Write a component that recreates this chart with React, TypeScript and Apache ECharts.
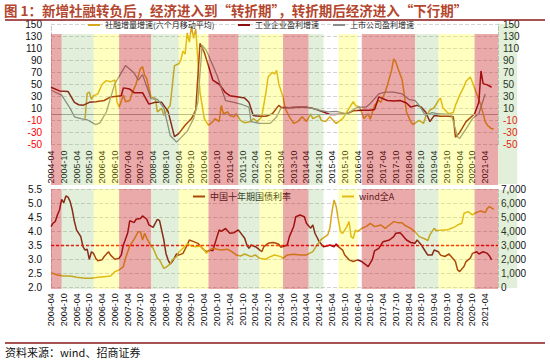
import React, { useEffect, useRef } from "react";
import * as echarts from "echarts";

// ---------------- text ----------------
const chartTitle = "图 1：新增社融转负后，经济进入到“转折期”，转折期后经济进入“下行期”";
const sourceNote = "资料来源：wind、招商证券";
const topNames = ["社融增量增速(六个月移动平均)", "工业企业盈利增速", "上市公司盈利增速"];
const bottomNames = ["中国十年期国债利率", "wind全A"];

// ---------------- axes ----------------
const axisStart = "2004-04";
const axisEnd = "2021-10";
const lastTickLabel = "2021-04";
const phaseTail = "2022-07";
const topAxisRange = [-50, 150, 20];
const bondAxisRange = [2, 5.5, 0.5];
const indexAxisRange = [0, 7000, 1000];
const bondReference = 3.5;

// ---------------- phases ----------------
const phases: [string, string, string][] = [
  ["2004-04", "2004-09", "turn"],
  ["2004-09", "2005-12", "down"],
  ["2005-12", "2006-12", "up"],
  ["2006-12", "2008-03", "turn"],
  ["2008-03", "2009-04", "down"],
  ["2009-04", "2010-06", "up"],
  ["2010-06", "2011-08", "turn"],
  ["2011-08", "2012-06", "down"],
  ["2012-06", "2013-05", "up"],
  ["2013-05", "2014-05", "turn"],
  ["2014-05", "2014-12", "down"],
  ["2015-07", "2016-04", "up"],
  ["2016-06", "2018-07", "turn"],
  ["2018-07", "2019-06", "down"],
  ["2019-06", "2020-11", "up"],
  ["2020-11", "2021-10", "turn"],
];
const tailPhase: [string, string, string] = ["2021-10", phaseTail, "down"];

// ---------------- series ----------------
const tsfGrowth: [string, number][] = [
  ["2005-08", -7], ["2005-09", 35], ["2005-10", 37], ["2005-11", 25], ["2005-12", 31],
  ["2006-02", 34], ["2006-04", 50], ["2006-06", 56], ["2006-08", 54], ["2006-10", 57],
  ["2006-11", 21], ["2006-12", 12], ["2007-02", 32], ["2007-03", 21], ["2007-05", 23],
  ["2007-06", 34], ["2007-08", 51], ["2007-10", 76], ["2007-11", 79], ["2007-12", 65],
  ["2008-01", 59], ["2008-02", 43], ["2008-03", 29], ["2008-05", 27], ["2008-06", 4],
  ["2008-08", 10], ["2008-09", -2], ["2008-11", 10], ["2008-12", 15], ["2009-01", 48],
  ["2009-02", 81], ["2009-04", 84], ["2009-05", 90], ["2009-06", 105], ["2009-07", 100],
  ["2009-08", 135], ["2009-09", 120], ["2009-10", 146], ["2009-11", 126], ["2009-12", 142],
  ["2010-01", 90], ["2010-02", 37], ["2010-03", 15], ["2010-04", -7], ["2010-06", -18],
  ["2010-08", -12], ["2010-09", -7], ["2010-11", -12], ["2010-12", 15], ["2011-01", 1],
  ["2011-03", 4], ["2011-04", -2], ["2011-06", -4], ["2011-07", 1], ["2011-09", -10],
  ["2011-11", -14], ["2012-02", -12], ["2012-03", -7], ["2012-05", -12], ["2012-07", -4],
  ["2012-09", 37], ["2012-10", 62], ["2012-12", 70], ["2013-01", 67], ["2013-02", 73],
  ["2013-03", 51], ["2013-05", 29], ["2013-06", 10], ["2013-08", -4], ["2013-10", -15],
  ["2013-12", -12], ["2014-02", -4], ["2014-04", -12], ["2014-06", 1], ["2014-07", -7],
  ["2014-10", -2], ["2014-11", -10], ["2015-01", -12], ["2015-03", -4], ["2015-05", -12],
  ["2015-06", -15], ["2015-09", -7], ["2015-10", -2], ["2015-12", 10], ["2016-02", 21],
  ["2016-03", 15], ["2016-05", 12], ["2016-07", -7], ["2016-09", 1], ["2016-10", -8],
  ["2016-12", 15], ["2017-02", 23], ["2017-03", 20], ["2017-05", 37], ["2017-06", 48],
  ["2017-08", 73], ["2017-09", 92], ["2017-10", 87], ["2017-11", 76], ["2018-01", 57],
  ["2018-02", 32], ["2018-03", 4], ["2018-05", -12], ["2018-06", -17], ["2018-08", -12],
  ["2018-09", -10], ["2018-11", -15], ["2018-12", -4], ["2019-02", 7], ["2019-04", 11],
  ["2019-06", 23], ["2019-07", 27], ["2019-08", 12], ["2019-10", 4], ["2019-11", 1],
  ["2020-01", 3], ["2020-02", 15], ["2020-04", 32], ["2020-06", 46], ["2020-07", 55],
  ["2020-09", 62], ["2020-10", 53], ["2020-12", 34], ["2021-02", 15], ["2021-04", -12],
  ["2021-05", -18], ["2021-07", -24], ["2021-08", -24],
];

const industrialProfit: [string, number][] = [
  ["2004-04", 45], ["2004-08", 39], ["2004-12", 38], ["2005-03", 20], ["2005-05", 16],
  ["2005-07", 15], ["2005-10", 20], ["2006-01", 21], ["2006-05", 23], ["2006-08", 29],
  ["2006-11", 30], ["2007-01", 31], ["2007-02", 44], ["2007-05", 42], ["2007-07", 36],
  ["2007-11", 36], ["2008-02", 17], ["2008-05", 20], ["2008-08", 20], ["2008-11", 5],
  ["2009-02", -37], ["2009-04", -32], ["2009-07", -18], ["2009-10", -7], ["2009-12", 7],
  ["2010-02", 118], ["2010-04", 103], ["2010-08", 57], ["2010-11", 50], ["2011-02", 36],
  ["2011-04", 31], ["2011-08", 29], ["2011-11", 27], ["2012-01", 20], ["2012-03", -2],
  ["2012-06", -3], ["2012-09", -3], ["2012-12", 1], ["2013-03", 15], ["2013-04", 12],
  ["2013-08", 11], ["2013-12", 12], ["2014-04", 12], ["2014-07", 10], ["2014-12", 4],
  ["2015-03", 0], ["2015-06", 0], ["2015-11", 1], ["2016-02", 6], ["2016-06", 7],
  ["2016-10", 7], ["2016-12", 8], ["2017-02", 29], ["2017-06", 23], ["2017-09", 22],
  ["2017-12", 23], ["2018-03", 19], ["2018-05", 12], ["2018-08", 15], ["2018-10", 12],
  ["2018-12", 4], ["2019-02", -12], ["2019-04", -2], ["2019-07", -3], ["2019-11", -3],
  ["2020-01", -4], ["2020-02", -38], ["2020-04", -30], ["2020-07", -12], ["2020-11", 1],
  ["2021-01", 20], ["2021-02", 72], ["2021-03", 51], ["2021-05", 49], ["2021-07", 45],
];

const listedProfit: [string, number][] = [
  ["2004-04", 40], ["2004-09", 32], ["2005-01", 10], ["2005-03", -4], ["2005-06", -7],
  ["2005-09", -9], ["2006-01", -17], ["2006-03", -14], ["2006-06", 4], ["2006-10", 51],
  ["2007-03", 81], ["2007-07", 69], ["2007-09", 57], ["2007-11", 66], ["2008-03", 26],
  ["2008-06", 25], ["2008-09", 11], ["2008-12", -35], ["2009-03", -46], ["2009-08", -28],
  ["2009-11", -7], ["2010-01", 20], ["2010-03", 115], ["2010-05", 106], ["2010-10", 65],
  ["2011-02", 23], ["2011-06", 20], ["2011-10", 16], ["2012-01", 12], ["2012-02", -12],
  ["2012-06", -15], ["2012-11", -15], ["2013-02", -4], ["2013-04", 10], ["2013-10", 12],
  ["2014-04", 12], ["2014-10", 7], ["2015-02", 4], ["2015-06", 5], ["2015-11", 1],
  ["2016-04", 12], ["2016-08", 12], ["2016-10", 18], ["2017-02", 34], ["2017-05", 37],
  ["2017-09", 37], ["2018-01", 34], ["2018-04", 25], ["2018-07", 23], ["2018-09", 15],
  ["2018-12", -2], ["2019-03", 3], ["2019-06", 1], ["2019-12", 0], ["2020-03", -37],
  ["2020-04", -40], ["2020-07", -24], ["2020-10", -7], ["2021-01", 1], ["2021-04", 34],
];

const bondYield: [string, number][] = [
  ["2004-04", 4.17], ["2004-05", 4.29], ["2004-06", 4.35], ["2004-07", 4.58], ["2004-08", 4.76],
  ["2004-09", 5.14], ["2004-10", 5.02], ["2004-11", 5.26], ["2004-12", 5.22], ["2005-01", 5.06],
  ["2005-02", 4.76], ["2005-03", 4.35], ["2005-04", 4.05], ["2005-06", 3.81], ["2005-07", 3.45],
  ["2005-08", 3.33], ["2005-09", 3.36], ["2005-10", 3.0], ["2005-11", 3.27], ["2005-12", 3.21],
  ["2006-01", 3.04], ["2006-02", 2.95], ["2006-04", 2.98], ["2006-05", 3.1], ["2006-07", 3.27],
  ["2006-08", 3.15], ["2006-10", 3.0], ["2006-12", 3.04], ["2007-01", 3.15], ["2007-02", 3.51],
  ["2007-04", 3.93], ["2007-05", 4.38], ["2007-07", 4.31], ["2007-08", 4.43], ["2007-10", 4.46],
  ["2007-11", 4.55], ["2008-01", 4.43], ["2008-02", 4.23], ["2008-04", 4.14], ["2008-05", 4.29],
  ["2008-06", 4.43], ["2008-07", 4.38], ["2008-09", 3.69], ["2008-10", 3.21], ["2008-11", 2.98],
  ["2008-12", 2.83], ["2009-01", 2.92], ["2009-03", 3.19], ["2009-04", 3.15], ["2009-06", 3.21],
  ["2009-08", 3.51], ["2009-09", 3.69], ["2009-11", 3.63], ["2010-01", 3.57], ["2010-03", 3.4],
  ["2010-05", 3.27], ["2010-07", 3.33], ["2010-08", 3.3], ["2010-10", 3.81], ["2010-11", 4.05],
  ["2010-12", 4.0], ["2011-02", 4.1], ["2011-04", 3.93], ["2011-06", 3.95], ["2011-08", 4.05],
  ["2011-11", 3.75], ["2011-12", 3.51], ["2012-01", 3.39], ["2012-02", 3.51], ["2012-04", 3.45],
  ["2012-05", 3.4], ["2012-07", 3.27], ["2012-08", 3.45], ["2012-10", 3.57], ["2012-12", 3.6],
  ["2013-01", 3.59], ["2013-03", 3.54], ["2013-04", 3.43], ["2013-07", 3.51], ["2013-08", 3.81],
  ["2013-10", 4.17], ["2013-11", 4.52], ["2014-01", 4.58], ["2014-03", 4.52], ["2014-04", 4.29],
  ["2014-06", 4.11], ["2014-07", 4.23], ["2014-08", 3.93], ["2014-10", 3.63], ["2014-12", 3.45],
  ["2015-02", 3.48], ["2015-03", 3.51], ["2015-05", 3.45], ["2015-06", 3.55], ["2015-07", 3.45],
  ["2015-09", 3.33], ["2015-10", 3.15], ["2015-12", 2.98], ["2016-02", 2.92], ["2016-04", 2.98],
  ["2016-06", 2.92], ["2016-08", 2.8], ["2016-09", 2.74], ["2016-11", 3.0], ["2016-12", 3.3],
  ["2017-02", 3.39], ["2017-04", 3.63], ["2017-07", 3.69], ["2017-09", 3.81], ["2017-10", 3.93],
  ["2017-12", 3.95], ["2018-01", 3.87], ["2018-03", 3.69], ["2018-05", 3.6], ["2018-07", 3.57],
  ["2018-08", 3.69], ["2018-10", 3.51], ["2018-12", 3.27], ["2019-01", 3.15], ["2019-03", 3.15],
  ["2019-04", 3.33], ["2019-06", 3.27], ["2019-07", 3.15], ["2019-09", 3.1], ["2019-11", 3.19],
  ["2019-12", 3.1], ["2020-02", 2.92], ["2020-03", 2.62], ["2020-04", 2.56], ["2020-06", 2.74],
  ["2020-07", 2.92], ["2020-09", 3.04], ["2020-10", 3.21], ["2020-12", 3.27], ["2021-01", 3.19],
  ["2021-03", 3.27], ["2021-05", 3.21], ["2021-06", 3.12], ["2021-07", 2.98],
];

const windAll: [string, number][] = [
  ["2004-04", 1048], ["2004-07", 881], ["2004-10", 810], ["2005-01", 810], ["2005-04", 714],
  ["2005-08", 643], ["2005-11", 643], ["2006-02", 714], ["2006-05", 762], ["2006-08", 810],
  ["2006-10", 1119], ["2006-12", 1238], ["2007-02", 1476], ["2007-03", 2071], ["2007-05", 2952],
  ["2007-07", 3429], ["2007-09", 3976], ["2007-10", 3976], ["2007-11", 3381], ["2007-12", 3857],
  ["2008-01", 3500], ["2008-03", 2952], ["2008-04", 2786], ["2008-06", 2071], ["2008-07", 1952],
  ["2008-09", 1357], ["2008-10", 1429], ["2008-12", 1667], ["2009-01", 1952], ["2009-03", 2190],
  ["2009-04", 2500], ["2009-06", 2786], ["2009-08", 3100], ["2009-10", 2950], ["2009-12", 2900],
  ["2010-02", 2950], ["2010-04", 2667], ["2010-05", 2429], ["2010-07", 2714], ["2010-08", 2786],
  ["2010-10", 2714], ["2010-12", 2667], ["2011-03", 2714], ["2011-05", 2548], ["2011-07", 2310],
  ["2011-09", 2238], ["2011-11", 2381], ["2012-02", 2190], ["2012-04", 2310], ["2012-06", 2071],
  ["2012-09", 2000], ["2012-10", 2119], ["2013-01", 2310], ["2013-04", 2190], ["2013-05", 2071],
  ["2013-07", 2310], ["2013-10", 2357], ["2014-01", 2310], ["2014-04", 2310], ["2014-07", 2548],
  ["2014-09", 3024], ["2014-11", 3429], ["2015-02", 3738], ["2015-03", 4214], ["2015-04", 5405],
  ["2015-05", 6238], ["2015-06", 5762], ["2015-07", 4810], ["2015-08", 3976], ["2015-09", 3857],
  ["2015-11", 4333], ["2015-12", 4690], ["2016-01", 3619], ["2016-02", 3500], ["2016-03", 4095],
  ["2016-04", 3976], ["2016-06", 4214], ["2016-08", 4333], ["2016-10", 4571], ["2016-12", 4333],
  ["2017-03", 4452], ["2017-05", 4214], ["2017-07", 4452], ["2017-09", 4690], ["2017-11", 4619],
  ["2018-01", 4619], ["2018-02", 4452], ["2018-05", 4214], ["2018-07", 3976], ["2018-09", 3619],
  ["2018-12", 3429], ["2019-01", 3333], ["2019-02", 3738], ["2019-04", 4214], ["2019-05", 4048],
  ["2019-08", 4095], ["2019-10", 4095], ["2019-11", 4143], ["2020-02", 4333], ["2020-03", 4452],
  ["2020-05", 4571], ["2020-06", 5286], ["2020-08", 5405], ["2020-10", 5167], ["2020-11", 5286],
  ["2021-01", 5405], ["2021-02", 5452], ["2021-04", 5333], ["2021-05", 5643], ["2021-06", 5762],
  ["2021-08", 5571],
];

// ---------------- helpers ----------------
const toIdx = (s: string) => {
  const [y, m] = s.split("-").map(Number);
  return (y - 2004) * 12 + (m - 4);
};
const toLabel = (i: number) => {
  const y = 2004 + Math.floor((i + 3) / 12);
  const m = ((i + 3) % 12) + 1;
  return `${y}-${String(m).padStart(2, "0")}`;
};
const pts = (arr: [string, number][]) => arr.map(([d, v]) => [toIdx(d), v]);

const NUM = "'Liberation Sans', Arial, sans-serif";
const CJK = "'Noto Sans CJK SC', 'Noto Sans', sans-serif";
const GOLD = "#D8A61C";
const DARK = "#8E0E0E";
const GRAY = "#8C8C8C";
const phaseColor: Record<string, string> = {
  turn: "rgba(196,20,20,0.36)",
  down: "rgba(112,173,71,0.2)",
  up: "rgba(255,255,0,0.25)",
};

const GRID_L = 51;
const GRID_W = 447;

export default function App() {
  const ref = useRef<HTMLDivElement>(null);
  useEffect(() => {
    if (!ref.current) return;
    const chart = echarts.init(ref.current, null, { renderer: "svg" });
    const xMin = toIdx(axisStart);
    const xMax = toIdx(axisEnd);
    const lastIdx = toIdx(lastTickLabel);
    const xAxis = (gridIndex: number) => ({
      type: "value",
      gridIndex,
      min: xMin,
      max: xMax,
      interval: 6,
      axisLine: { show: false },
      axisTick: { show: false },
      splitLine: { show: false },
      axisLabel: {
        rotate: 90,
        fontSize: 9,
        fontFamily: NUM,
        color: "#111",
        margin: 6,
        formatter: (v: number) => (v <= lastIdx ? toLabel(v) : ""),
      },
    });
    const dashedAxisLine = { show: true, lineStyle: { color: "#C8C8C8", type: "dashed", width: 1 } };
    const split = { show: true, lineStyle: { color: "#D4D4D4", type: "dashed", width: 1 } };
    const legendBase = {
      icon: "rect",
      itemWidth: 12,
      itemHeight: 2,
      padding: 0,
      selectedMode: false,
      textStyle: { fontSize: 8, fontFamily: CJK, color: "#222" },
    };
    const topLabelColor = (v: any) => (Number(v) < 0 ? "#FF0000" : "#111");
    const refLine = { color: "#FF0000", type: [3, 2], width: 1.4, opacity: 1 };
    const option: any = {
      animation: false,
      backgroundColor: "#fff",
      grid: [
        { left: GRID_L, width: GRID_W, top: 24, height: 120.5 },
        { left: GRID_L, width: GRID_W, top: 189.3, height: 98 },
      ],
      legend: [
        { ...legendBase, data: [topNames[0]], left: 88, top: 21 },
        { ...legendBase, data: [topNames[1]], left: 238, top: 21 },
        { ...legendBase, data: [topNames[2]], left: 333, top: 21 },
        { ...legendBase, data: [bottomNames[0]], left: 193, top: 192, textStyle: { ...legendBase.textStyle, fontSize: 9 } },
        { ...legendBase, data: [bottomNames[1]], left: 342, top: 192, textStyle: { ...legendBase.textStyle, fontSize: 9 } },
      ],
      xAxis: [xAxis(0), xAxis(1)],
      yAxis: [
        {
          type: "value", gridIndex: 0, position: "left",
          min: topAxisRange[0], max: topAxisRange[1], interval: topAxisRange[2],
          axisLine: dashedAxisLine, axisTick: { show: false }, splitLine: split,
          axisLabel: { fontSize: 10, fontFamily: NUM, margin: 9, color: topLabelColor },
        },
        {
          type: "value", gridIndex: 0, position: "right",
          min: topAxisRange[0], max: topAxisRange[1], interval: topAxisRange[2],
          axisLine: dashedAxisLine, axisTick: { show: false }, splitLine: { show: false },
          axisLabel: { fontSize: 10, fontFamily: NUM, margin: 5, color: topLabelColor },
        },
        {
          type: "value", gridIndex: 1, position: "left",
          min: bondAxisRange[0], max: bondAxisRange[1], interval: bondAxisRange[2],
          axisLine: dashedAxisLine, axisTick: { show: false }, splitLine: split,
          axisLabel: { fontSize: 10, fontFamily: NUM, margin: 9, color: "#111", formatter: (v: number) => v.toFixed(1) },
        },
        {
          type: "value", gridIndex: 1, position: "right",
          min: indexAxisRange[0], max: indexAxisRange[1], interval: indexAxisRange[2],
          axisLine: dashedAxisLine, axisTick: { show: false }, splitLine: { show: false },
          axisLabel: { fontSize: 10, fontFamily: NUM, margin: 3, color: "#111", formatter: (v: number) => v.toLocaleString("en-US") },
        },
      ],
      series: [
        {
          name: topNames[0], type: "line", xAxisIndex: 0, yAxisIndex: 0, data: pts(tsfGrowth),
          showSymbol: false, symbol: "none", color: GOLD, lineStyle: { width: 1.5, color: GOLD },
          markLine: {
            silent: true, symbol: "none", label: { show: false },
            lineStyle: { color: "#A8A8A8", type: "solid", width: 1 },
            data: [{ yAxis: 0 }],
          },
        },
        {
          name: topNames[1], type: "line", xAxisIndex: 0, yAxisIndex: 0, data: pts(industrialProfit),
          showSymbol: false, symbol: "none", color: DARK, lineStyle: { width: 1.5, color: DARK },
        },
        {
          name: topNames[2], type: "line", xAxisIndex: 0, yAxisIndex: 0, data: pts(listedProfit),
          showSymbol: false, symbol: "none", color: GRAY, lineStyle: { width: 1.3, color: GRAY },
        },
        {
          name: bottomNames[0], type: "line", xAxisIndex: 1, yAxisIndex: 2, data: pts(bondYield),
          showSymbol: false, symbol: "none", color: DARK, lineStyle: { width: 1.5, color: DARK },
        },
        {
          name: bottomNames[1], type: "line", xAxisIndex: 1, yAxisIndex: 3, data: pts(windAll),
          showSymbol: false, symbol: "none", color: GOLD, lineStyle: { width: 1.5, color: GOLD },
        },
        {
          name: "ref", type: "line", xAxisIndex: 1, yAxisIndex: 2, data: [], z: 4,
          color: "#FF0000",
          markLine: {
            silent: true, symbol: "none", label: { show: false },
            lineStyle: refLine,
            emphasis: { disabled: true },
            data: [{ yAxis: bondReference, lineStyle: refLine }],
          },
        },
      ],
    };
    chart.setOption(option);

    const px = (i: number) => chart.convertToPixel({ xAxisIndex: 0 } as any, i) as number;
    const bandRects: any[] = [];
    const addBand = ([a, b, kind]: [string, string, string], y0: number, y1: number) => {
      const x0 = px(toIdx(a));
      const x1 = px(toIdx(b));
      bandRects.push({
        type: "rect", z: 100, silent: true,
        shape: { x: x0, y: y0, width: x1 - x0, height: y1 - y0 },
        style: { fill: phaseColor[kind] },
      });
    };
    phases.forEach((p) => {
      addBand(p, 34, 185);
      addBand(p, 189, 289);
    });
    addBand(tailPhase, 24, 184);
    addBand(tailPhase, 190, 288);

    chart.setOption({
      graphic: [
        {
          type: "text", left: 4, top: 3, z: 120,
          style: { text: chartTitle, font: `bold 13.5px ${CJK}`, fill: "#B4462D" },
        },
        {
          type: "line", z: 120, shape: { x1: 5, y1: 20, x2: 545, y2: 20 },
          style: { stroke: "#8B1A1A", lineWidth: 1.5 },
        },
        {
          type: "line", z: 120, shape: { x1: 5, y1: 343, x2: 545, y2: 343 },
          style: { stroke: "#8B1A1A", lineWidth: 1.5 },
        },
        {
          type: "text", left: 5, top: 346, z: 120,
          style: { text: sourceNote, font: `11px ${CJK}`, fill: "#111" },
        },
        ...bandRects,
      ],
    });
    return () => chart.dispose();
  }, []);
  return <div ref={ref} style={{ width: 550, height: 360, position: "absolute", left: 0, top: 0 }} />;
}
